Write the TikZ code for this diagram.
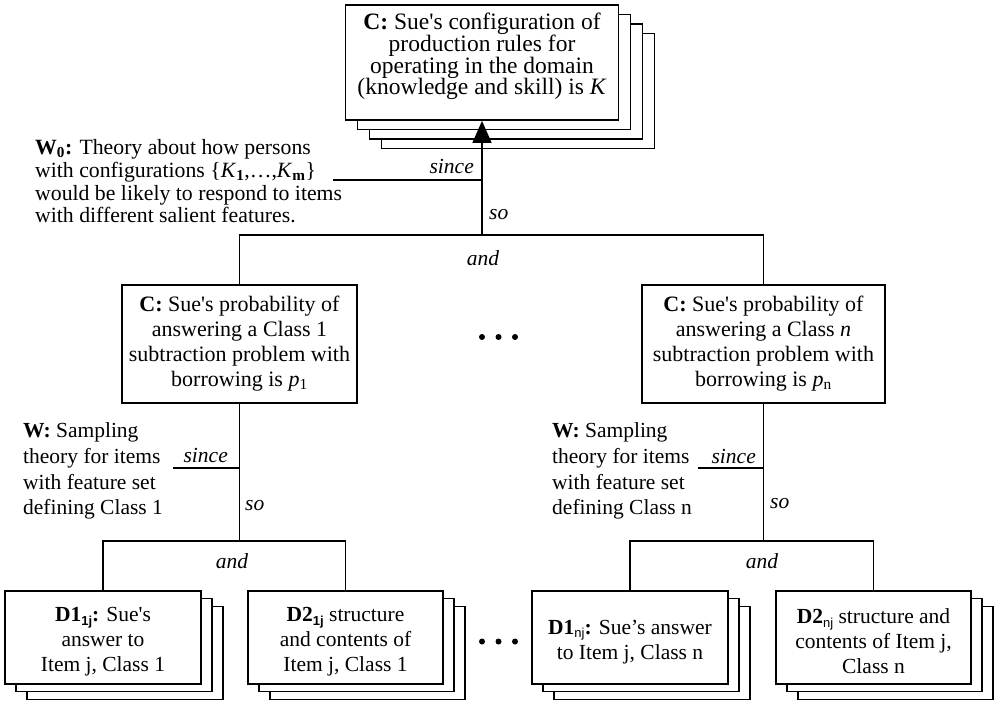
\documentclass[tikz,border=0pt]{standalone}
\usepackage{fontspec}
\setmainfont{Liberation Serif}
\newfontfamily\subsans{Liberation Sans}
\usetikzlibrary{arrows.meta,shadows}
\newcommand{\apos}{\textquotesingle}
\newcommand{\sansub}[1]{\raisebox{-3.5pt}{\fontsize{13}{13}\selectfont\subsans #1}}
\newcommand{\topstrut}{\rule{0pt}{23pt}}
\begin{document}
\begin{tikzpicture}[x=1pt,y=-1pt,
  lw/.style={line width=1.7pt},
  claimbox/.style={draw,lw,fill=white,align=center,inner sep=0pt},
  stackthree/.style={
    copy shadow={shadow xshift=36pt,shadow yshift=-28.5pt,lw},
    copy shadow={shadow xshift=24pt,shadow yshift=-19pt,lw},
    copy shadow={shadow xshift=12pt,shadow yshift=-9.5pt,lw}},
  stacktwo/.style={
    copy shadow={shadow xshift=22pt,shadow yshift=-15.5pt,lw},
    copy shadow={shadow xshift=11pt,shadow yshift=-7.5pt,lw}},
  bigtxt/.style={font=\fontsize{23.5}{21.7}\selectfont},
  midtxt/.style={font=\fontsize{22}{25}\selectfont},
  smalltxt/.style={font=\fontsize{21.5}{25}\selectfont},
  warrant/.style={align=left,inner sep=0pt},
  link/.style={font=\fontsize{21.5}{25}\selectfont\itshape,inner sep=0pt},
  dotmark/.style={fill=black}
]
\useasboundingbox (0,0) rectangle (995,701);

% ---- top claim ----
\node[claimbox,stackthree,bigtxt,minimum width=273pt,minimum height=115pt] (topC) at (482,62.5)
  {\textbf{C:} Sue\apos s configuration of\\production rules for\\operating in the domain\\(knowledge and skill) is \textit{K}\rule[-17pt]{0pt}{0pt}};

% ---- warrant for the top claim ----
\node[warrant,anchor=north west,font=\fontsize{21.75}{22.7}\selectfont] (w0) at (35,139.5)
  {\textbf{W\textsubscript{0}:} Theory about how persons\\
   with configurations \{\textit{K}\textsubscript{\textbf{1}},…,\textit{K}\textsubscript{\textbf{m}}\}\\
   would be likely to respond to items\\
   with different salient features.};

% ---- class-level claims ----
\node[claimbox,midtxt,minimum width=235pt,minimum height=118pt] (c1) at (239.5,344)
  {\textbf{C:} Sue\apos s probability of\\answering a Class 1\\subtraction problem with\\borrowing is \textit{p}\textsubscript{1}};
\node[claimbox,midtxt,minimum width=243pt,minimum height=118pt] (cn) at (763.5,344)
  {\textbf{C:} Sue\apos s probability of\\answering a Class \textit{n}\\subtraction problem with\\borrowing is \textit{p}\textsubscript{n}};

% ---- sampling warrants ----
\node[warrant,anchor=north west,font=\fontsize{21.5}{25.7}\selectfont] (w1) at (23,422.5)
  {\textbf{W:} Sampling\\theory for items\\with feature set\\defining Class 1};
\node[warrant,anchor=north west,font=\fontsize{21.5}{25.7}\selectfont] (wn) at (552,422.5)
  {\textbf{W:} Sampling\\theory for items\\with feature set\\defining Class n};

% ---- data ----
\node[claimbox,stacktwo,smalltxt,minimum width=196pt,minimum height=93pt] (d11) at (103,637.5)
  {\topstrut\textbf{D1}\sansub{\bfseries 1j}\textbf{:} Sue\apos s\\answer to\\Item j, Class 1};
\node[claimbox,stacktwo,smalltxt,minimum width=195pt,minimum height=93pt] (d21) at (345.5,637.5)
  {\topstrut\textbf{D2}\sansub{\bfseries 1j} structure\\and contents of\\Item j, Class 1};
\node[claimbox,stacktwo,smalltxt,minimum width=196pt,minimum height=93pt] (d1n) at (630,637.5)
  {\topstrut\textbf{D1}\sansub{nj}\textbf{:} Sue’s answer\\to Item j, Class n};
\node[claimbox,stacktwo,smalltxt,minimum width=195pt,minimum height=93pt] (d2n) at (873.5,637.5)
  {\topstrut\textbf{D2}\sansub{nj} structure and\\contents of Item j,\\Class n};

% ---- junction points ----
\coordinate (j0) at (482,235);
\coordinate (w0end) at (333,180);
\coordinate (j1) at (239.5,541);
\coordinate (jn) at (763.5,541);
\coordinate (w1end) at (173,468);
\coordinate (wnend) at (698,468);

% ---- connectors, top level ----
\draw[lw,-{Triangle[length=22pt,width=19pt]}] (j0) -- (topC.south);
\draw[lw] (w0end) -- (w0end -| j0);
\draw[lw] (c1.north) -- (c1.north |- j0) -- (cn.north |- j0) -- (cn.north);
\node[link,anchor=base east] (since0) at (474,173) {since};
\node[link,anchor=base west] (so0) at (489,219) {so};
\node[link,anchor=base] (and0) at (483,265) {and};

% ---- connectors, class 1 ----
\draw[lw] (c1.south) -- (j1);
\draw[lw] (w1end) -- (w1end -| c1.south);
\draw[lw] (d11.north) -- (d11.north |- j1) -- (d21.north |- j1) -- (d21.north);
\node[link,anchor=base east] (since1) at (228,462) {since};
\node[link,anchor=base west] (so1) at (245,510) {so};
\node[link,anchor=base] (and1) at (232,568) {and};

% ---- connectors, class n ----
\draw[lw] (cn.south) -- (jn);
\draw[lw] (wnend) -- (wnend -| cn.south);
\draw[lw] (d1n.north) -- (d1n.north |- jn) -- (d2n.north |- jn) -- (d2n.north);
\node[link,anchor=base east] (sincen) at (756,463) {since};
\node[link,anchor=base west] (son) at (770,508) {so};
\node[link,anchor=base] (andn) at (762,568) {and};

% ---- ellipsis dots between the classes ----
\foreach \x in {482,498.5,515} {
  \fill[dotmark] (\x,337) circle (3pt);
  \fill[dotmark] (\x,641.5) circle (3pt);
}
\end{tikzpicture}
\end{document}
